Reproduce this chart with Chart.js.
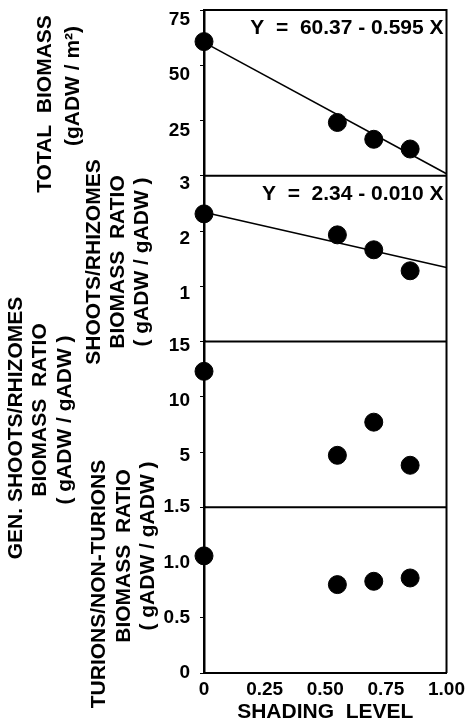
<!DOCTYPE html>
<html>
<head>
<meta charset="utf-8">
<script src="https://cdn.jsdelivr.net/npm/chart.js@4.4.1/dist/chart.umd.min.js"></script>
<style>
  html, body { margin: 0; padding: 0; background: #fff; }
  #wrap { width: 470px; height: 725px; }
</style>
</head>
<body>
<div id="wrap"><canvas id="shadingChart" width="470" height="725"></canvas></div>
<script>
// Data
const shadingLevels = [0, 0.55, 0.70, 0.85];
const totalBiomass = [60.7, 24.1, 16.5, 12.1];
const shootRhizomeRatio = [2.31, 1.93, 1.66, 1.28];
const genShootRhizomeRatio = [12.3, 4.7, 7.7, 3.8];
const turionRatio = [1.06, 0.80, 0.83, 0.86];

// regression lines, drawn across the full shading range
const fitRange = [0, 1];
const biomassFit = [60.37, 0.87];
const ratioFit = [2.34, 1.34];

const xTickLabels = ['0', '0.25', '0.50', '0.75', '1.00'];
const biomassEquation = 'Y  =  60.37 - 0.595 X';
const ratioEquation = 'Y  =  2.34 - 0.010 X';

const panelTitles = {
    y1: ['TOTAL  BIOMASS', '(gADW / m²)'],
    y2: ['SHOOTS/RHIZOMES', 'BIOMASS  RATIO', '( gADW / gADW )'],
    y3: ['GEN. SHOOTS/RHIZOMES', 'BIOMASS  RATIO', '( gADW / gADW )'],
    y4: ['TURIONS/NON-TURIONS', 'BIOMASS  RATIO', '( gADW / gADW )']
};

const FONT = "'Liberation Sans', Arial, sans-serif";
const toPoints = (ys) => ys.map((y, i) => ({ x: shadingLevels[i], y }));
const toLine = (ys) => ys.map((y, i) => ({ x: fitRange[i], y }));

// where each title line sits: [x centre, y centre] in px
const titleSpots = {
    y1: [[45, 104], [73, 86]],
    y2: [[94, 262], [118, 262], [142, 262]],
    y3: [[16, 428], [40, 410], [65, 420]],
    y4: [[99, 584], [124, 556], [148, 546]]
};

const panelDecor = {
    id: 'panelDecor',
    afterDraw(chart) {
        const { ctx, chartArea: a, scales } = chart;
        ctx.save();
        ctx.strokeStyle = '#000';
        ctx.lineWidth = 2;
        ctx.beginPath();
        ctx.moveTo(a.left, a.top);
        ctx.lineTo(a.right, a.top);
        ctx.lineTo(a.right, a.bottom);
        ['y2', 'y3', 'y4'].forEach(id => {
            const yy = scales[id].getPixelForValue(scales[id].max);
            ctx.moveTo(a.left, yy);
            ctx.lineTo(a.right, yy);
        });
        ctx.stroke();

        // regression equations
        ctx.fillStyle = '#000';
        ctx.font = 'bold 21px ' + FONT;
        ctx.textAlign = 'right';
        ctx.textBaseline = 'middle';
        ctx.fillText(biomassEquation, a.right - 3, scales.y1.top + 18);
        ctx.fillText(ratioEquation, a.right - 3, scales.y2.top + 18);

        // rotated axis titles
        ctx.font = 'bold 21px ' + FONT;
        ctx.textAlign = 'center';
        Object.keys(panelTitles).forEach(id => {
            panelTitles[id].forEach((txt, i) => {
                const [tx, ty] = titleSpots[id][i];
                ctx.save();
                ctx.translate(tx, ty);
                ctx.rotate(-Math.PI / 2);
                ctx.fillText(txt, 0, 0);
                ctx.restore();
            });
        });
        ctx.restore();
    }
};

const yPanel = (weight, max, step, offset, fmt) => ({
    type: 'linear',
    position: 'left',
    stack: 'panels',
    stackWeight: 1,
    weight: weight,
    min: 0,
    max: max,
    ticks: {
        stepSize: step,
        color: '#000',
        font: { family: FONT, size: 19, weight: 'bold' },
        padding: 10,
        labelOffset: offset,
        callback: fmt
    },
    grid: { drawOnChartArea: false, tickLength: 4, color: '#000', lineWidth: 1 },
    border: { color: '#000', width: 2.5 },
    afterFit: (s) => {
        s.width = 204;
        s.paddingTop = 0;
        s.paddingBottom = 0;
    }
});

const pointSet = (data, axis) => ({
    data: toPoints(data),
    yAxisID: axis,
    backgroundColor: '#000',
    borderColor: '#000',
    pointRadius: 9,
    clip: false
});

const lineSet = (data, axis) => ({
    data: toLine(data),
    yAxisID: axis,
    showLine: true,
    borderColor: '#000',
    borderWidth: 1.6,
    pointRadius: 0,
    clip: false
});

new Chart(document.getElementById('shadingChart').getContext('2d'), {
    type: 'scatter',
    data: {
        datasets: [
            lineSet(biomassFit, 'y1'),
            pointSet(totalBiomass, 'y1'),
            lineSet(ratioFit, 'y2'),
            pointSet(shootRhizomeRatio, 'y2'),
            pointSet(genShootRhizomeRatio, 'y3'),
            pointSet(turionRatio, 'y4')
        ]
    },
    options: {
        responsive: false,
        animation: false,
        layout: { padding: { left: 0, right: 22, top: 7, bottom: 0 } },
        plugins: { legend: { display: false }, tooltip: { enabled: false } },
        scales: {
            x: {
                type: 'linear',
                position: 'bottom',
                min: 0,
                max: 1,
                ticks: {
                    stepSize: 0.25,
                    color: '#000',
                    padding: 5,
                    font: { family: FONT, size: 19, weight: 'bold' },
                    callback: (v, i) => xTickLabels[i]
                },
                grid: { drawOnChartArea: false, drawTicks: false },
                border: { color: '#000', width: 2 },
                title: {
                    display: true,
                    text: 'SHADING  LEVEL',
                    color: '#000',
                    font: { family: FONT, size: 21, weight: 'bold' },
                    padding: { top: 0, bottom: 0 }
                },
                afterFit: (s) => { s.height = 52; }
            },
            y1: yPanel(4, 75, 25, 10, (v) => v === 0 ? '' : v),
            y2: yPanel(3, 3, 1, 8, (v) => v === 0 ? '' : v),
            y3: yPanel(2, 15, 5, 4, (v) => v === 0 ? '' : v),
            y4: yPanel(1, 1.5, 0.5, 0, (v) => v === 0 ? '0' : v.toFixed(1))
        }
    },
    plugins: [panelDecor]
});
</script>
</body>
</html>
